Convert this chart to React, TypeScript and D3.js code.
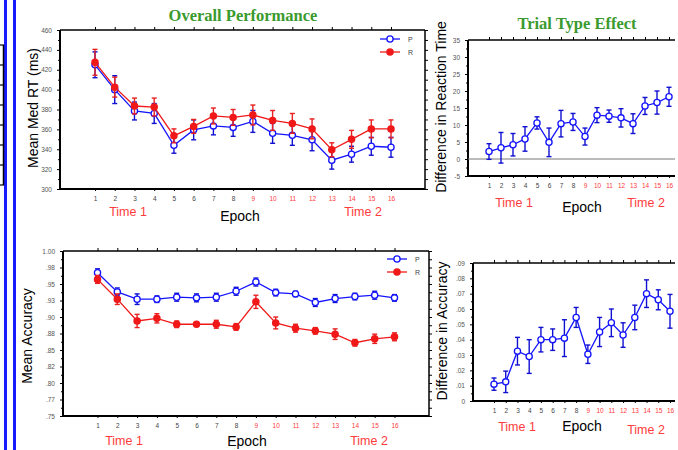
import React, { useEffect, useRef } from "react";
import * as d3 from "d3";

const epochs = [1, 2, 3, 4, 5, 6, 7, 8, 9, 10, 11, 12, 13, 14, 15, 16];

// Overall performance: median RT (ms)
const rtP = [425, 400, 378.5, 376, 344, 359.5, 363.5, 362, 368, 356, 354, 349.5, 329, 335, 343, 342];
const rtPErr = [13, 14, 9, 10, 8, 10, 9, 9, 11, 10, 10, 11, 9, 8, 9, 10];
const rtR = [427.5, 402.5, 383.5, 382.5, 353.5, 363, 373.5, 372, 374.5, 369, 366, 360.5, 339.5, 350, 360.5, 360.5];
const rtRErr = [13, 10, 8, 9, 7, 7, 8, 8, 10, 10, 10, 10, 7, 9, 9, 9];
const rtTicks = [300, 320, 340, 360, 380, 400, 420, 440, 460];

// Trial type effect: RT difference
const rtDiff = [2.2, 3.3, 4.2, 5.9, 10.6, 4.9, 10.4, 10.9, 6.6, 12.9, 12.6, 12.1, 10.4, 15.6, 16.6, 18.3];
const rtDiffErr = [2.3, 4.5, 3.3, 3.6, 1.8, 4.2, 3.9, 2.5, 2.5, 2.2, 1.8, 2.7, 2.9, 2.5, 3.4, 2.8];
const rtDiffTicks = [-5, 0, 5, 10, 15, 20, 25, 30, 35];

// Overall performance: accuracy
const accP = [0.967, 0.938, 0.927, 0.927, 0.93, 0.929, 0.93, 0.939, 0.953, 0.937, 0.935, 0.922, 0.928, 0.931, 0.933, 0.929];
const accPErr = [0.006, 0.006, 0.008, 0.005, 0.006, 0.006, 0.006, 0.006, 0.006, 0.005, 0.004, 0.006, 0.006, 0.005, 0.006, 0.005];
const accR = [0.957, 0.927, 0.894, 0.898, 0.889, 0.889, 0.889, 0.885, 0.923, 0.891, 0.883, 0.879, 0.874, 0.861, 0.867, 0.87];
const accRErr = [0.006, 0.008, 0.01, 0.007, 0.005, 0.003, 0.006, 0.005, 0.01, 0.009, 0.006, 0.005, 0.008, 0.005, 0.007, 0.006];
const accTicks = [0.75, 0.775, 0.8, 0.825, 0.85, 0.875, 0.9, 0.925, 0.95, 0.975, 1.0];
const accTickLabels = [".75", ".77", ".80", ".82", ".85", ".88", ".90", ".93", ".95", ".98", "1.00"];

// Trial type effect: accuracy difference
const accDiff = [0.011, 0.0125, 0.0325, 0.029, 0.04, 0.04, 0.041, 0.0545, 0.0305, 0.045, 0.051, 0.043, 0.0545, 0.07, 0.066, 0.0585];
const accDiffErr = [0.004, 0.007, 0.009, 0.011, 0.008, 0.007, 0.012, 0.0065, 0.006, 0.0095, 0.009, 0.008, 0.008, 0.009, 0.0065, 0.011];
const accDiffTicks = [0, 0.01, 0.02, 0.03, 0.04, 0.05, 0.06, 0.07, 0.08, 0.09];
const accDiffTickLabels = ["0", ".01", ".02", ".03", ".04", ".05", ".06", ".07", ".08", ".09"];

const BLUE = "#1414ff";
const RED = "#f01818";
const TXT_RED = "#ff3b3b";
const GREEN = "#3a9a2e";
const SANS = "'Liberation Sans', Arial, sans-serif";
const SERIF = "'Liberation Serif', 'Times New Roman', serif";

function drawPanel(svg: any, c: any) {
  const x = d3.scaleLinear().domain([1, 16]).range([c.x0, c.x1]);
  const y = d3.scaleLinear().domain(c.yDomain).range([c.bottom, c.top]);
  const g = svg.append("g");

  const minors: number[] = [];
  for (let i = 0; i < c.ticks.length - 1; i++) minors.push((c.ticks[i] + c.ticks[i + 1]) / 2);

  // left axis
  const la = g.append("g").attr("transform", `translate(${c.left},0)`)
    .call(d3.axisLeft(y).tickValues(c.ticks).tickSize(3).tickPadding(5)
      .tickFormat((d: any, i: number) => c.tickLabels ? c.tickLabels[i] : String(d)));
  la.select(".domain").remove();
  la.selectAll("line").attr("stroke", "#000");
  la.selectAll("text").style("font-family", SANS).style("font-size", "6.5px").attr("fill", "#555");
  g.append("g").attr("transform", `translate(${c.left},0)`)
    .call(d3.axisLeft(y).tickValues(minors).tickSize(2).tickFormat(() => ""))
    .call((s: any) => s.select(".domain").remove());

  // top ticks
  g.append("g").attr("transform", `translate(0,${c.top})`)
    .call(d3.axisTop(x).tickValues(epochs).tickSize(3).tickFormat(() => ""))
    .call((s: any) => s.select(".domain").remove());

  // right axis
  if (c.rightAxis) {
    g.append("g").attr("transform", `translate(${c.right},0)`)
      .call(d3.axisRight(y).tickValues([...c.ticks, ...minors]).tickSize(3).tickFormat(() => ""))
      .call((s: any) => s.select(".domain").remove());
    g.append("line").attr("x1", c.right).attr("x2", c.right).attr("y1", c.top).attr("y2", c.bottom)
      .attr("stroke", "#000").attr("stroke-width", 1.5);
  }

  // bottom axis
  const ba = g.append("g").attr("transform", `translate(0,${c.bottom})`)
    .call(d3.axisBottom(x).tickValues(epochs).tickSize(2).tickPadding(5));
  ba.select(".domain").remove();
  ba.selectAll("text").style("font-family", SANS).style("font-size", "6.5px")
    .attr("fill", (d: any) => (d > 8 ? TXT_RED : "#444"));

  // frame
  g.append("line").attr("x1", c.left).attr("x2", c.right).attr("y1", c.top).attr("y2", c.top)
    .attr("stroke", "#000").attr("stroke-width", 1.5);
  g.append("line").attr("x1", c.left).attr("x2", c.left).attr("y1", c.top).attr("y2", c.bottom)
    .attr("stroke", "#000").attr("stroke-width", 2);
  g.append("line").attr("x1", c.left).attr("x2", c.right).attr("y1", c.bottom).attr("y2", c.bottom)
    .attr("stroke", "#000").attr("stroke-width", 2);

  if (c.zeroLine) {
    g.append("line").attr("x1", c.left).attr("x2", c.right).attr("y1", y(0)).attr("y2", y(0))
      .attr("stroke", "#777").attr("stroke-width", 1);
  }

  // series
  c.series.forEach((s: any) => {
    const pts = epochs.map((e, i) => ({ e, v: s.values[i], err: s.err[i] }));
    g.append("path").datum(pts)
      .attr("d", d3.line<any>().x(d => x(d.e)).y(d => y(d.v)))
      .attr("fill", "none").attr("stroke", s.color).attr("stroke-width", 1.3);
    const eb = g.append("g").attr("stroke", s.barColor).attr("stroke-width", 1.4);
    pts.forEach(d => {
      const xx = x(d.e);
      eb.append("line").attr("x1", xx).attr("x2", xx).attr("y1", y(d.v - d.err)).attr("y2", y(d.v + d.err));
      eb.append("line").attr("x1", xx - 2.5).attr("x2", xx + 2.5).attr("y1", y(d.v - d.err)).attr("y2", y(d.v - d.err));
      eb.append("line").attr("x1", xx - 2.5).attr("x2", xx + 2.5).attr("y1", y(d.v + d.err)).attr("y2", y(d.v + d.err));
    });
    g.selectAll(null).data(pts).enter().append("circle")
      .attr("cx", (d: any) => x(d.e)).attr("cy", (d: any) => y(d.v)).attr("r", 3.1)
      .attr("fill", s.open ? "#fff" : s.color).attr("stroke", s.color).attr("stroke-width", 1.3);
  });

  // legend
  if (c.legend) {
    c.series.forEach((s: any, i: number) => {
      const ly = c.legend.y + i * 13;
      g.append("line").attr("x1", c.legend.x).attr("x2", c.legend.x + 20).attr("y1", ly).attr("y2", ly)
        .attr("stroke", s.color).attr("stroke-width", 1.3);
      g.append("circle").attr("cx", c.legend.x + 10).attr("cy", ly).attr("r", 3.1)
        .attr("fill", s.open ? "#fff" : s.color).attr("stroke", s.color).attr("stroke-width", 1.3);
      g.append("text").attr("x", c.legend.x + 28).attr("y", ly + 2.5)
        .style("font-family", SANS).style("font-size", "7px").attr("fill", "#444").text(s.name);
    });
  }

  // labels
  const txt = (tx: number, ty: number, t: string, size: number, fill: string) =>
    g.append("text").attr("x", tx).attr("y", ty).attr("text-anchor", "middle")
      .style("font-family", SANS).style("font-size", `${size}px`).attr("fill", fill).text(t);
  txt(c.time1[0], c.time1[1], "Time 1", 12.5, TXT_RED);
  txt(c.epoch[0], c.epoch[1], "Epoch", 14, "#000");
  txt(c.time2[0], c.time2[1], "Time 2", 12.5, TXT_RED);
  g.append("text").attr("transform", `translate(${c.ylab[0]},${c.ylab[1]}) rotate(-90)`)
    .attr("text-anchor", "middle").style("font-family", SANS).style("font-size", `${c.ylab[2]}px`)
    .attr("fill", "#000").text(c.ylabel);
}

export default function App() {
  const svgRef = useRef<SVGSVGElement>(null);

  useEffect(() => {
    if (!svgRef.current) return;
    const svg = d3.select(svgRef.current);
    svg.selectAll("*").remove();

    // slide decorations on the left edge
    svg.append("rect").attr("x", 4).attr("y", 0).attr("width", 3).attr("height", 450).attr("fill", "#1a1aff");
    svg.append("rect").attr("x", 13).attr("y", 0).attr("width", 3).attr("height", 450).attr("fill", "#1a1aff");
    svg.append("line").attr("x1", 3.5).attr("x2", 3.5).attr("y1", 45).attr("y2", 185).attr("stroke", "#000").attr("stroke-width", 1.5);
    [45, 65, 85, 105, 125, 145, 165, 185].forEach(t =>
      svg.append("line").attr("x1", 0).attr("x2", 4).attr("y1", t).attr("y2", t).attr("stroke", "#000").attr("stroke-width", 1.2));

    svg.append("text").attr("x", 243).attr("y", 21).attr("text-anchor", "middle")
      .style("font-family", SERIF).style("font-size", "16.5px").style("font-weight", "bold")
      .attr("fill", GREEN).text("Overall Performance");
    svg.append("text").attr("x", 577).attr("y", 29).attr("text-anchor", "middle")
      .style("font-family", SERIF).style("font-size", "16.5px").style("font-weight", "bold")
      .attr("fill", GREEN).text("Trial Type Effect");

    drawPanel(svg, {
      left: 60, right: 425, top: 30, bottom: 189, x0: 95, x1: 391,
      yDomain: [300, 460], ticks: rtTicks, rightAxis: true,
      series: [
        { name: "P", values: rtP, err: rtPErr, color: BLUE, barColor: "#1010d0", open: true },
        { name: "R", values: rtR, err: rtRErr, color: RED, barColor: "#e82020", open: false },
      ],
      legend: { x: 380, y: 39 },
      time1: [128, 216], epoch: [240, 221], time2: [363, 216],
      ylab: [38, 108, 14], ylabel: "Mean Med RT (ms)",
    });

    drawPanel(svg, {
      left: 468, right: 675, top: 40, bottom: 176, x0: 489, x1: 669,
      yDomain: [-5, 35], ticks: rtDiffTicks, zeroLine: true,
      series: [{ name: "P", values: rtDiff, err: rtDiffErr, color: BLUE, barColor: "#1010d0", open: true }],
      time1: [514, 207], epoch: [582, 212], time2: [646, 207],
      ylab: [446, 107, 14], ylabel: "Difference in Reaction Time",
    });

    drawPanel(svg, {
      left: 63, right: 429, top: 251, bottom: 416, x0: 97.5, x1: 394.5,
      yDomain: [0.75, 1.0], ticks: accTicks, tickLabels: accTickLabels, rightAxis: true,
      series: [
        { name: "P", values: accP, err: accPErr, color: BLUE, barColor: "#1010d0", open: true },
        { name: "R", values: accR, err: accRErr, color: RED, barColor: "#e82020", open: false },
      ],
      legend: { x: 387, y: 259 },
      time1: [124, 445], epoch: [247, 446], time2: [369, 445],
      ylab: [32, 336, 14], ylabel: "Mean Accuracy",
    });

    drawPanel(svg, {
      left: 473, right: 675, top: 263, bottom: 401, x0: 494, x1: 670,
      yDomain: [0, 0.09], ticks: accDiffTicks, tickLabels: accDiffTickLabels,
      series: [{ name: "P", values: accDiff, err: accDiffErr, color: BLUE, barColor: "#1010d0", open: true }],
      time1: [517, 431], epoch: [582, 431], time2: [646, 434],
      ylab: [447, 331, 14], ylabel: "Difference in Accuracy",
    });
  }, []);

  return (
    <svg ref={svgRef} width={678} height={450}
      style={{ position: "absolute", left: 0, top: 0, background: "#fff" }} />
  );
}
